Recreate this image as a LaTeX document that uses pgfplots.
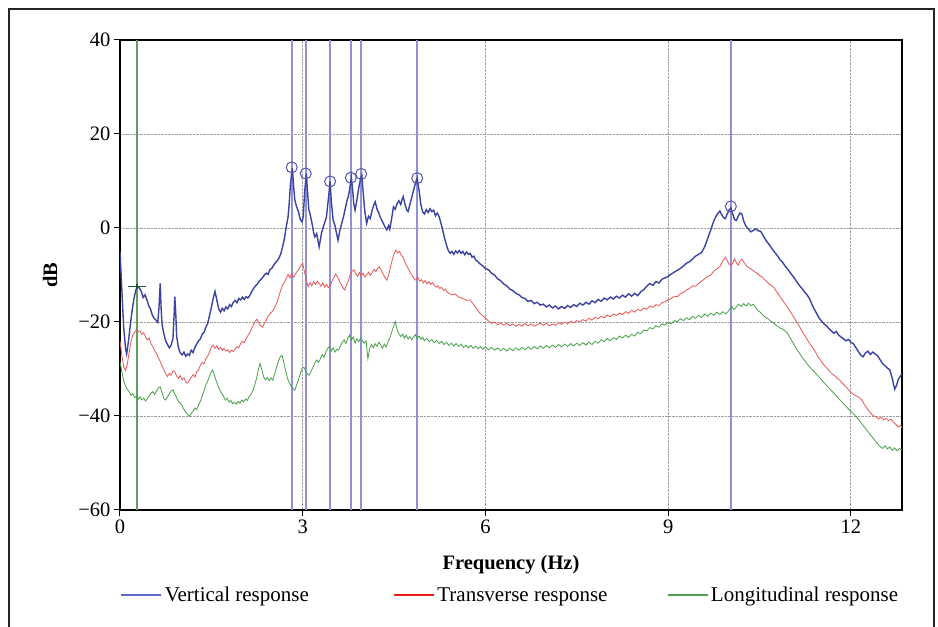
\documentclass[border=0pt]{standalone}
\usepackage{fontspec}
\setmainfont{Liberation Serif}
\usepackage{pgfplots}
\pgfplotsset{compat=1.18}
\definecolor{vblue}{RGB}{58,68,160}
\definecolor{tred}{RGB}{232,85,85}
\definecolor{lgreen}{RGB}{70,160,70}
\definecolor{vline}{RGB}{145,145,215}
\definecolor{gline}{RGB}{95,160,95}
\definecolor{cblue}{RGB}{85,85,175}
\definecolor{dgreen}{RGB}{25,85,40}
\definecolor{legblue}{RGB}{95,105,195}
\definecolor{legred}{RGB}{230,30,30}
\definecolor{leggreen}{RGB}{80,160,80}
\begin{document}
\begin{tikzpicture}
\begin{axis}[
  width=782pt, height=470pt, scale only axis,
  xmin=0, xmax=12.84, ymin=-60, ymax=40,
  xtick={0,3,6,9,12},
  ytick={-60,-40,-20,0,20,40},
  yticklabels={−60,−40,−20,0,20,40},
  tick pos=left, tick align=outside,
  major tick length=6pt,
  tick style={black, line width=1pt},
  axis line style={black, line width=2pt},
  grid=major,
  major grid style={densely dotted, gray!75, line width=0.9pt},
  ticklabel style={font=\fontsize{20.5}{24}\selectfont},
  /pgf/number format/assume math mode=true,
  xlabel={\textbf{Frequency (Hz)}},
  ylabel={\textbf{dB}},
  label style={font=\fontsize{20.5}{24}\selectfont},
  xlabel style={at={(axis description cs:0.5,-0.117)}, anchor=center},
  ylabel style={at={(axis description cs:-0.0895,0.5)}, anchor=center},
  legend image code/.code={\draw[#1] (0pt,0pt) -- (40pt,0pt);},
  legend image post style={line width=2.6pt},
  legend columns=3,
  legend style={at={(axis description cs:0.0,-0.181)}, anchor=west, draw=none, fill=none,
    inner sep=0pt, column sep=0pt, font=\fontsize{21}{25}\selectfont},
]
% vertical marker lines
\addplot[vline, line width=1.7pt, forget plot] coordinates {(2.82,-60) (2.82,40)};
\addplot[vline, line width=1.7pt, forget plot] coordinates {(3.05,-60) (3.05,40)};
\addplot[vline, line width=1.7pt, forget plot] coordinates {(3.45,-60) (3.45,40)};
\addplot[vline, line width=1.7pt, forget plot] coordinates {(3.79,-60) (3.79,40)};
\addplot[vline, line width=1.7pt, forget plot] coordinates {(3.96,-60) (3.96,40)};
\addplot[vline, line width=1.7pt, forget plot] coordinates {(4.88,-60) (4.88,40)};
\addplot[vline, line width=1.7pt, forget plot] coordinates {(10.03,-60) (10.03,40)};
\addplot[gline, line width=1.8pt, forget plot] coordinates {(0.28,-60) (0.28,40)};
% longitudinal
\addplot[lgreen, line width=0.8pt, forget plot] coordinates {
(0.00,-28.5)(0.03,-30.5)(0.06,-32.4)(0.09,-33.6)(0.12,-34.3)(0.15,-34.8)(0.18,-35.6)(0.21,-35.2)(0.24,-36.1)(0.27,-35.8)
(0.30,-36.4)(0.33,-35.9)(0.36,-36.6)(0.39,-36.2)(0.42,-36.8)(0.45,-36.3)(0.48,-35.7)(0.51,-35.2)(0.54,-34.8)(0.57,-35.4)
(0.60,-34.6)(0.63,-34.0)(0.66,-33.8)(0.69,-35.0)(0.72,-36.3)(0.75,-36.6)(0.78,-35.9)(0.81,-35.3)(0.84,-34.7)(0.87,-34.4)
(0.90,-35.3)(0.93,-36.1)(0.96,-36.9)(0.99,-37.2)(1.02,-37.8)(1.05,-38.6)(1.08,-39.2)(1.11,-39.7)(1.14,-40.1)(1.17,-39.4)
(1.20,-39.0)(1.23,-38.3)(1.26,-38.6)(1.29,-37.6)(1.32,-36.9)(1.35,-35.7)(1.38,-34.6)(1.41,-33.4)(1.44,-32.6)(1.47,-31.5)
(1.50,-30.6)(1.52,-30.2)(1.55,-31.3)(1.58,-32.5)(1.61,-33.6)(1.64,-34.5)(1.67,-35.2)(1.70,-35.8)(1.73,-36.6)(1.76,-36.2)
(1.79,-37.0)(1.82,-36.7)(1.85,-37.4)(1.88,-37.1)(1.91,-37.5)(1.94,-36.9)(1.97,-37.3)(2.00,-36.6)(2.03,-37.0)(2.06,-36.4)
(2.09,-36.7)(2.12,-35.9)(2.15,-35.4)(2.18,-34.6)(2.21,-33.5)(2.24,-32.1)(2.27,-30.3)(2.30,-28.8)(2.33,-30.2)(2.36,-31.7)
(2.39,-32.3)(2.42,-31.8)(2.45,-32.5)(2.48,-31.9)(2.51,-32.4)(2.54,-31.0)(2.57,-29.6)(2.60,-28.5)(2.63,-27.4)(2.66,-27.1)
(2.69,-28.6)(2.72,-30.4)(2.75,-32.0)(2.78,-33.0)(2.81,-33.6)(2.84,-34.2)(2.87,-34.5)(2.90,-33.4)(2.93,-32.3)(2.96,-31.0)
(2.99,-29.8)(3.02,-29.6)(3.05,-30.5)(3.08,-31.1)(3.11,-31.3)(3.14,-30.4)(3.17,-29.6)(3.20,-28.7)(3.23,-28.1)(3.26,-28.6)
(3.29,-27.8)(3.32,-26.9)(3.35,-27.5)(3.38,-26.4)(3.41,-25.6)(3.44,-25.3)(3.47,-26.2)(3.50,-25.5)(3.53,-26.4)(3.56,-25.8)
(3.59,-26.0)(3.62,-25.1)(3.65,-24.3)(3.68,-23.8)(3.71,-24.6)(3.74,-23.5)(3.77,-22.8)(3.80,-23.9)(3.83,-23.2)(3.86,-24.5)
(3.89,-23.6)(3.92,-24.2)(3.95,-23.4)(3.98,-24.0)(4.01,-24.5)(4.04,-24.0)(4.07,-27.8)(4.10,-25.6)(4.13,-24.8)(4.16,-25.5)
(4.19,-24.6)(4.22,-25.2)(4.25,-24.3)(4.28,-24.9)(4.31,-25.6)(4.34,-24.7)(4.37,-25.3)(4.40,-24.2)(4.43,-23.4)(4.46,-22.2)
(4.49,-21.0)(4.52,-19.9)(4.55,-21.6)(4.58,-22.5)(4.61,-23.1)(4.64,-22.6)(4.67,-23.4)(4.70,-22.8)(4.73,-23.6)(4.76,-23.1)
(4.79,-23.8)(4.82,-23.2)(4.85,-22.7)(4.88,-23.5)(4.91,-23.0)(4.94,-23.7)(4.97,-23.3)(5.00,-24.0)(5.04,-23.5)(5.08,-24.2)
(5.12,-23.7)(5.16,-24.4)(5.20,-23.9)(5.24,-24.6)(5.28,-24.1)(5.32,-24.8)(5.36,-24.3)(5.40,-25.0)(5.44,-24.5)(5.48,-25.1)
(5.52,-24.6)(5.56,-25.2)(5.60,-24.7)(5.64,-25.4)(5.68,-24.9)(5.72,-25.5)(5.76,-25.0)(5.80,-25.6)(5.84,-25.1)(5.88,-25.7)
(5.92,-25.2)(5.96,-25.8)(6.00,-25.3)(6.05,-25.9)(6.10,-25.4)(6.15,-26.0)(6.20,-25.5)(6.25,-26.1)(6.30,-25.6)(6.35,-26.2)
(6.40,-25.6)(6.45,-26.1)(6.50,-25.5)(6.55,-26.0)(6.60,-25.4)(6.65,-25.9)(6.70,-25.3)(6.75,-25.8)(6.80,-25.2)(6.85,-25.7)
(6.90,-25.1)(6.95,-25.6)(7.00,-25.0)(7.05,-25.5)(7.10,-24.9)(7.15,-25.4)(7.20,-24.8)(7.25,-25.3)(7.30,-24.7)(7.35,-25.2)
(7.40,-24.6)(7.45,-25.1)(7.50,-24.5)(7.55,-25.0)(7.60,-24.4)(7.65,-24.9)(7.70,-24.3)(7.75,-24.8)(7.80,-24.1)(7.85,-24.5)
(7.90,-23.8)(7.95,-24.2)(8.00,-23.5)(8.05,-24.0)(8.10,-23.3)(8.15,-23.7)(8.20,-23.0)(8.25,-23.4)(8.30,-22.8)(8.35,-23.3)
(8.40,-22.6)(8.45,-23.0)(8.50,-22.2)(8.55,-22.5)(8.60,-21.7)(8.65,-21.9)(8.70,-21.2)(8.75,-21.5)(8.80,-20.8)(8.85,-21.1)
(8.90,-20.4)(8.95,-20.7)(9.00,-20.0)(9.05,-20.4)(9.10,-19.7)(9.15,-20.0)(9.20,-19.3)(9.25,-19.7)(9.30,-19.1)(9.35,-19.5)
(9.40,-18.8)(9.45,-19.2)(9.50,-18.6)(9.55,-19.0)(9.60,-18.3)(9.65,-18.8)(9.70,-18.1)(9.75,-18.6)(9.80,-17.9)(9.85,-18.4)
(9.90,-17.8)(9.95,-18.3)(10.00,-17.5)(10.04,-16.6)(10.08,-17.4)(10.12,-16.8)(10.16,-16.2)(10.20,-16.7)(10.24,-16.1)(10.28,-16.6)
(10.32,-16.0)(10.36,-16.5)(10.40,-16.2)(10.44,-17.0)(10.48,-17.6)(10.52,-18.0)(10.56,-18.6)(10.60,-19.0)(10.64,-19.3)(10.68,-19.8)
(10.72,-20.1)(10.76,-20.6)(10.80,-20.9)(10.84,-21.3)(10.88,-21.5)(10.92,-21.9)(10.96,-22.4)(11.00,-23.3)(11.04,-24.2)(11.08,-25.1)
(11.12,-26.0)(11.16,-26.7)(11.20,-27.5)(11.24,-28.2)(11.28,-28.9)(11.32,-29.5)(11.36,-30.1)(11.40,-30.6)(11.44,-31.2)(11.48,-31.7)
(11.52,-32.3)(11.56,-32.9)(11.60,-33.5)(11.64,-34.0)(11.68,-34.6)(11.72,-35.1)(11.76,-35.7)(11.80,-36.3)(11.84,-36.8)(11.88,-37.4)
(11.92,-37.9)(11.96,-38.5)(12.00,-39.0)(12.04,-39.5)(12.08,-40.1)(12.12,-40.6)(12.16,-41.3)(12.20,-42.0)(12.24,-42.6)(12.28,-43.3)
(12.32,-44.0)(12.36,-44.6)(12.40,-45.3)(12.44,-45.9)(12.48,-46.5)(12.52,-46.9)(12.56,-46.3)(12.60,-47.0)(12.64,-46.6)(12.68,-47.3)
(12.72,-46.8)(12.76,-47.4)(12.80,-46.9)(12.84,-47.3)};
% transverse
\addplot[tred, line width=0.8pt, forget plot] coordinates {
(0.00,-24)(0.03,-27)(0.06,-29.5)(0.09,-30.3)(0.12,-29)(0.15,-26.5)(0.18,-24.2)(0.21,-22.8)(0.24,-22.2)(0.27,-21.7)
(0.30,-22.1)(0.33,-21.9)(0.36,-22.7)(0.39,-22.3)(0.42,-23.2)(0.45,-23.8)(0.48,-23.4)(0.51,-24.6)(0.54,-25.3)(0.57,-26.1)
(0.60,-26.7)(0.63,-27.6)(0.66,-28.4)(0.69,-29.3)(0.72,-30.2)(0.75,-31.0)(0.78,-31.6)(0.81,-30.9)(0.84,-31.3)(0.87,-30.4)
(0.90,-30.6)(0.93,-31.5)(0.96,-32.0)(0.99,-31.4)(1.02,-32.3)(1.05,-31.9)(1.08,-32.8)(1.11,-33.0)(1.14,-32.4)(1.17,-31.8)
(1.20,-31.2)(1.23,-31.7)(1.26,-30.6)(1.29,-30.2)(1.32,-29.2)(1.35,-28.6)(1.38,-28.9)(1.41,-27.8)(1.44,-27.2)(1.47,-26.4)
(1.50,-25.4)(1.53,-24.9)(1.56,-25.6)(1.59,-25.1)(1.62,-25.8)(1.65,-25.4)(1.68,-26.0)(1.71,-25.6)(1.74,-26.2)(1.77,-25.9)
(1.80,-26.5)(1.83,-26.0)(1.86,-26.3)(1.89,-25.7)(1.92,-25.2)(1.95,-25.5)(1.98,-24.6)(2.01,-24.1)(2.04,-24.4)(2.07,-23.6)
(2.10,-22.9)(2.13,-22.3)(2.16,-21.4)(2.19,-20.6)(2.22,-19.9)(2.25,-19.4)(2.28,-20.2)(2.31,-20.8)(2.34,-21.1)(2.37,-20.3)
(2.40,-19.6)(2.43,-18.8)(2.46,-18.3)(2.49,-17.9)(2.52,-17.4)(2.55,-16.6)(2.58,-15.7)(2.61,-14.5)(2.64,-13.2)(2.67,-12.1)
(2.70,-11.6)(2.73,-10.7)(2.76,-9.9)(2.79,-10.6)(2.82,-9.6)(2.85,-10.5)(2.88,-9.8)(2.91,-9.2)(2.94,-8.7)(2.97,-8.0)
(3.00,-7.5)(3.03,-9.4)(3.06,-11.2)(3.09,-12.5)(3.12,-11.6)(3.15,-12.3)(3.18,-11.4)(3.21,-12.0)(3.24,-11.3)(3.27,-11.8)
(3.30,-12.4)(3.33,-11.7)(3.36,-12.6)(3.39,-12.0)(3.42,-12.7)(3.45,-12.4)(3.48,-11.3)(3.51,-10.6)(3.54,-9.8)(3.57,-10.4)
(3.60,-11.2)(3.63,-12.0)(3.66,-12.7)(3.69,-13.2)(3.72,-12.1)(3.75,-11.2)(3.78,-9.9)(3.81,-9.2)(3.84,-8.9)(3.87,-9.7)
(3.90,-10.3)(3.93,-9.5)(3.96,-10.2)(3.99,-9.6)(4.02,-10.4)(4.05,-10.0)(4.08,-9.4)(4.11,-10.1)(4.14,-9.5)(4.17,-8.8)
(4.20,-9.3)(4.23,-8.6)(4.26,-8.2)(4.29,-9.0)(4.32,-9.8)(4.35,-10.5)(4.38,-11.1)(4.41,-10.0)(4.44,-8.4)(4.47,-6.8)
(4.50,-5.5)(4.53,-4.7)(4.56,-5.3)(4.59,-5.0)(4.62,-5.9)(4.65,-6.2)(4.68,-7.3)(4.71,-8.1)(4.74,-8.8)(4.77,-9.6)
(4.80,-10.2)(4.83,-10.8)(4.86,-11.1)(4.89,-10.5)(4.92,-11.3)(4.95,-11.0)(4.98,-11.7)(5.01,-11.2)(5.04,-11.9)(5.07,-11.4)
(5.10,-12.0)(5.13,-11.6)(5.16,-12.2)(5.19,-12.6)(5.22,-12.3)(5.25,-12.9)(5.28,-12.6)(5.31,-13.3)(5.34,-13.0)(5.37,-13.6)
(5.40,-13.9)(5.45,-14.2)(5.50,-14.0)(5.55,-14.6)(5.60,-14.9)(5.65,-15.1)(5.70,-15.4)(5.75,-15.3)(5.80,-16.2)(5.85,-17.0)
(5.90,-18.0)(5.95,-18.6)(6.00,-19.2)(6.05,-19.8)(6.10,-20.3)(6.15,-20.0)(6.20,-20.6)(6.25,-20.2)(6.30,-20.7)(6.35,-20.3)
(6.40,-20.8)(6.45,-20.4)(6.50,-20.9)(6.55,-20.5)(6.60,-20.9)(6.65,-20.3)(6.70,-20.8)(6.75,-20.4)(6.80,-20.9)(6.85,-20.6)
(6.90,-20.2)(6.95,-20.7)(7.00,-20.3)(7.05,-20.8)(7.10,-20.4)(7.15,-20.7)(7.20,-20.1)(7.25,-20.5)(7.30,-20.0)(7.35,-20.4)
(7.40,-19.8)(7.45,-20.2)(7.50,-19.7)(7.55,-20.0)(7.60,-19.5)(7.65,-19.8)(7.70,-19.2)(7.75,-19.6)(7.80,-19.0)(7.85,-19.3)
(7.90,-18.8)(7.95,-19.1)(8.00,-18.5)(8.05,-18.9)(8.10,-18.3)(8.15,-18.6)(8.20,-18.1)(8.25,-18.4)(8.30,-17.8)(8.35,-18.2)
(8.40,-17.5)(8.45,-17.9)(8.50,-17.3)(8.55,-17.6)(8.60,-17.0)(8.65,-17.3)(8.70,-16.6)(8.75,-16.9)(8.80,-16.3)(8.85,-16.5)
(8.90,-15.9)(8.95,-15.7)(9.00,-15.3)(9.05,-15.0)(9.10,-14.5)(9.15,-14.6)(9.20,-14.0)(9.25,-13.7)(9.30,-13.2)(9.35,-12.9)
(9.40,-12.3)(9.45,-12.4)(9.50,-11.8)(9.55,-11.3)(9.60,-10.8)(9.65,-10.3)(9.70,-10.0)(9.75,-9.2)(9.80,-8.7)(9.85,-8.2)
(9.88,-7.4)(9.91,-6.8)(9.94,-6.2)(9.97,-6.9)(10.00,-7.7)(10.03,-8.0)(10.06,-7.5)(10.09,-6.6)(10.12,-7.4)(10.15,-7.9)
(10.18,-7.0)(10.21,-6.6)(10.24,-7.2)(10.27,-7.8)(10.30,-8.2)(10.34,-8.6)(10.38,-8.9)(10.42,-9.3)(10.46,-9.6)(10.50,-10.1)
(10.54,-10.4)(10.58,-10.9)(10.62,-11.4)(10.66,-11.9)(10.70,-12.3)(10.74,-12.7)(10.78,-13.5)(10.82,-14.3)(10.86,-15.0)(10.90,-15.8)
(10.94,-16.5)(10.98,-17.3)(11.02,-18.1)(11.06,-18.9)(11.10,-19.8)(11.14,-20.6)(11.18,-21.5)(11.22,-22.4)(11.26,-23.2)(11.30,-24.1)
(11.34,-24.9)(11.38,-25.6)(11.42,-26.4)(11.46,-27.4)(11.50,-28.1)(11.54,-28.9)(11.58,-29.4)(11.62,-30.0)(11.66,-30.6)(11.70,-31.1)
(11.74,-31.5)(11.78,-32.0)(11.82,-32.4)(11.86,-33.0)(11.90,-33.5)(11.94,-34.1)(11.98,-34.7)(12.02,-35.2)(12.06,-35.5)(12.10,-35.8)
(12.14,-36.1)(12.18,-36.6)(12.22,-37.5)(12.26,-38.3)(12.30,-39.0)(12.34,-39.6)(12.38,-40.0)(12.42,-40.2)(12.46,-40.6)(12.50,-40.3)
(12.54,-40.8)(12.58,-40.5)(12.62,-41.0)(12.66,-40.7)(12.70,-41.3)(12.74,-41.8)(12.78,-42.3)(12.82,-42.0)(12.84,-42.6)};
% vertical
\addplot[vblue, line width=1.4pt, forget plot] coordinates {
(0.00,-5)(0.03,-13)(0.06,-21)(0.09,-25.5)(0.11,-26.8)(0.14,-24)(0.17,-20.5)(0.20,-17.5)(0.23,-15)(0.26,-13.2)
(0.29,-12.5)(0.32,-12.8)(0.35,-13.5)(0.38,-14.8)(0.41,-14.2)(0.44,-15.2)(0.47,-16.5)(0.50,-17.2)(0.53,-18.5)(0.56,-19.2)
(0.59,-19.6)(0.62,-20.1)(0.64,-17)(0.66,-11.8)(0.675,-17)(0.69,-20.5)(0.72,-22.5)(0.75,-24)(0.78,-24.8)(0.81,-25.5)
(0.84,-24.9)(0.87,-23.5)(0.89,-18)(0.90,-14.6)(0.915,-18)(0.93,-23)(0.96,-25.5)(0.99,-26.6)(1.02,-27.0)(1.05,-26.4)
(1.08,-27.3)(1.11,-26.8)(1.14,-27.1)(1.17,-26.0)(1.20,-26.5)(1.23,-25.4)(1.26,-24.7)(1.29,-24.0)(1.32,-23.6)(1.35,-22.6)
(1.38,-22.2)(1.41,-21.1)(1.44,-20.3)(1.47,-18.6)(1.50,-16.9)(1.53,-15.0)(1.56,-13.5)(1.59,-15.3)(1.62,-17.2)(1.65,-17.9)
(1.68,-17.1)(1.71,-17.6)(1.74,-16.8)(1.77,-17.2)(1.80,-16.3)(1.83,-16.7)(1.86,-15.8)(1.89,-15.4)(1.92,-15.9)(1.95,-15.0)
(1.98,-15.3)(2.01,-14.7)(2.04,-15.2)(2.07,-14.6)(2.10,-14.9)(2.13,-14.4)(2.16,-13.6)(2.19,-12.9)(2.22,-12.4)(2.25,-12.0)
(2.28,-11.4)(2.31,-11.0)(2.34,-10.6)(2.37,-10.0)(2.40,-9.6)(2.43,-9.9)(2.46,-8.9)(2.49,-8.6)(2.52,-8.0)(2.55,-7.4)
(2.58,-7.0)(2.61,-6.4)(2.64,-5.5)(2.67,-4.0)(2.70,-2.2)(2.73,0.3)(2.76,2.4)(2.78,5.5)(2.80,9.5)(2.83,12.7)
(2.85,9.0)(2.87,6.0)(2.90,4.5)(2.93,3.5)(2.96,1.8)(2.99,1.3)(3.01,2.5)(3.03,7.5)(3.06,11.6)(3.08,7.5)
(3.10,4.0)(3.12,3.0)(3.15,1.2)(3.18,-1.0)(3.20,-1.9)(3.23,-1.2)(3.25,-2.6)(3.27,-4.0)(3.29,-2.5)(3.31,-1.0)
(3.34,0.3)(3.37,1.5)(3.39,2.4)(3.42,6.0)(3.45,9.9)(3.47,5.5)(3.50,1.7)(3.53,0.5)(3.55,-0.8)(3.58,-2.6)
(3.61,-0.5)(3.64,1.0)(3.67,2.4)(3.70,4.2)(3.73,6.0)(3.75,6.7)(3.78,9.0)(3.80,10.6)(3.82,8.0)(3.84,5.0)
(3.86,3.8)(3.89,6.0)(3.92,8.5)(3.95,10.5)(3.97,11.3)(3.99,8.0)(4.02,3.5)(4.05,1.0)(4.08,2.5)(4.11,2.0)
(4.14,3.8)(4.17,5.0)(4.19,5.6)(4.22,4.0)(4.25,3.2)(4.27,2.4)(4.30,1.6)(4.33,0.8)(4.36,0.0)(4.38,-0.4)
(4.41,0.5)(4.43,-0.3)(4.46,2.0)(4.49,4.5)(4.52,4.0)(4.55,5.2)(4.58,5.8)(4.61,5.0)(4.63,6.0)(4.65,6.7)
(4.68,5.0)(4.71,3.8)(4.73,3.5)(4.76,5.0)(4.79,6.5)(4.82,8.0)(4.85,9.5)(4.88,10.6)(4.91,8.0)(4.94,5.0)
(4.97,3.4)(5.00,3.0)(5.03,3.9)(5.06,3.3)(5.09,4.1)(5.12,3.5)(5.15,3.8)(5.18,2.6)(5.21,3.2)(5.24,2.4)
(5.27,1.0)(5.30,-0.5)(5.33,-2.2)(5.36,-3.6)(5.39,-4.8)(5.42,-5.4)(5.45,-5.0)(5.48,-5.6)(5.51,-4.9)(5.54,-5.3)
(5.57,-4.8)(5.60,-5.4)(5.63,-5.0)(5.66,-5.7)(5.69,-5.1)(5.72,-5.6)(5.75,-5.4)(5.78,-6.2)(5.81,-6.0)(5.84,-6.8)
(5.87,-7.1)(5.90,-7.5)(5.95,-8.0)(6.00,-8.6)(6.05,-8.9)(6.10,-9.6)(6.15,-10.0)(6.20,-10.8)(6.25,-11.2)(6.30,-11.9)
(6.35,-12.3)(6.40,-13.0)(6.45,-13.3)(6.50,-13.9)(6.55,-14.2)(6.60,-14.8)(6.65,-15.0)(6.70,-15.6)(6.75,-15.4)(6.80,-16.1)
(6.85,-15.8)(6.90,-16.4)(6.95,-16.2)(7.00,-16.8)(7.05,-16.4)(7.10,-17.0)(7.15,-16.6)(7.20,-17.2)(7.25,-16.7)(7.30,-17.1)
(7.35,-16.5)(7.40,-16.9)(7.45,-16.3)(7.50,-16.7)(7.55,-16.0)(7.60,-16.4)(7.65,-15.8)(7.70,-16.2)(7.75,-15.5)(7.80,-15.9)
(7.85,-15.2)(7.90,-15.6)(7.95,-14.9)(8.00,-15.3)(8.05,-14.7)(8.10,-15.1)(8.15,-14.5)(8.20,-14.9)(8.25,-14.3)(8.30,-14.7)
(8.35,-14.0)(8.40,-14.5)(8.45,-13.9)(8.50,-14.4)(8.55,-13.6)(8.60,-13.1)(8.65,-12.4)(8.70,-11.8)(8.75,-12.2)(8.80,-11.4)
(8.85,-11.7)(8.90,-10.9)(8.95,-10.6)(9.00,-10.3)(9.05,-9.8)(9.10,-9.4)(9.15,-9.0)(9.20,-8.6)(9.25,-8.1)(9.30,-7.5)
(9.35,-7.2)(9.40,-6.6)(9.45,-6.0)(9.50,-5.6)(9.55,-5.2)(9.60,-4.0)(9.65,-2.2)(9.70,-0.4)(9.73,0.8)(9.76,1.8)
(9.79,2.6)(9.82,3.2)(9.85,3.6)(9.88,2.8)(9.91,2.2)(9.94,2.0)(9.97,3.0)(10.00,3.8)(10.03,4.3)(10.06,3.0)
(10.09,1.8)(10.12,1.6)(10.15,2.5)(10.18,3.2)(10.21,3.0)(10.24,1.5)(10.27,0.6)(10.30,0.0)(10.33,-0.4)(10.36,-0.8)
(10.40,-0.5)(10.44,-0.2)(10.48,-0.6)(10.52,-0.7)(10.56,-1.6)(10.60,-2.5)(10.64,-3.2)(10.68,-3.9)(10.72,-4.7)(10.76,-5.3)
(10.80,-6.0)(10.84,-6.8)(10.88,-7.3)(10.92,-8.1)(10.96,-8.7)(11.00,-9.4)(11.04,-10.1)(11.08,-10.8)(11.12,-11.6)(11.16,-12.3)
(11.20,-12.9)(11.24,-13.6)(11.28,-14.2)(11.32,-15.0)(11.36,-16.2)(11.40,-17.3)(11.44,-18.2)(11.48,-19.2)(11.52,-19.8)(11.56,-20.4)
(11.60,-20.8)(11.64,-21.4)(11.68,-21.9)(11.72,-22.4)(11.76,-22.0)(11.80,-22.8)(11.84,-23.2)(11.88,-23.6)(11.92,-24.0)(11.96,-23.7)
(12.00,-24.3)(12.04,-24.6)(12.08,-25.4)(12.12,-26.2)(12.16,-27.0)(12.20,-27.4)(12.24,-26.6)(12.28,-26.2)(12.32,-26.9)(12.36,-26.4)
(12.40,-26.8)(12.44,-27.2)(12.48,-28.0)(12.52,-28.8)(12.56,-29.3)(12.60,-29.8)(12.64,-30.2)(12.68,-32.0)(12.72,-34.3)(12.75,-33.5)
(12.78,-32.2)(12.81,-31.6)(12.84,-31.0)};
% peak circles
\addplot[only marks, mark=o, mark size=5.5pt, mark options={cblue, line width=1pt}, forget plot] coordinates {
(2.82,12.9)(3.05,11.6)(3.45,9.9)(3.79,10.7)(3.96,11.5)(4.88,10.6)(10.03,4.6)};
% green cursor
\addplot[only marks, mark=-, mark size=9pt, mark options={dgreen, line width=1.4pt}, forget plot] coordinates {(0.28,-12.5)};
\addplot[only marks, mark=|, mark size=2.5pt, mark options={dgreen, line width=1.2pt}, forget plot] coordinates {(0.28,-12.5)};
% legend
\addlegendimage{legblue, line width=2.6pt}
\addlegendentry{\makebox[226pt][l]{Vertical response}}
\addlegendimage{legred, line width=2.6pt}
\addlegendentry{\makebox[227pt][l]{Transverse response}}
\addlegendimage{leggreen, line width=2.6pt}
\addlegendentry{Longitudinal response}
\end{axis}
\draw[line width=1.2pt, black!85]
  ([xshift=-111pt,yshift=-140pt]current axis.south west) --
  ([xshift=-111pt,yshift=501pt]current axis.south west) --
  ([xshift=814pt,yshift=501pt]current axis.south west) --
  ([xshift=814pt,yshift=-140pt]current axis.south west);
\pgfresetboundingbox
\path[use as bounding box] ([xshift=-120pt,yshift=-117pt]current axis.south west) rectangle ([xshift=818pt,yshift=510pt]current axis.south west);
\end{tikzpicture}
\end{document}
